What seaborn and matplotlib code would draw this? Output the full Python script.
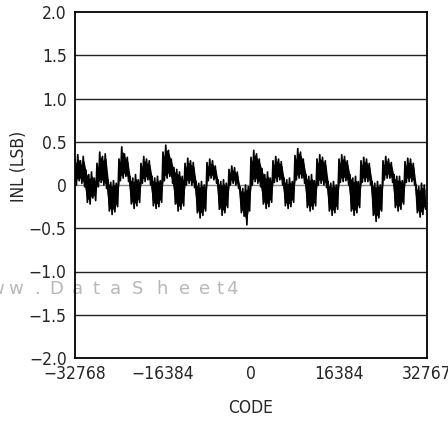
import numpy as np
import pandas as pd
import matplotlib
matplotlib.use("Agg")
import matplotlib.pyplot as plt
import seaborn as sns
from matplotlib import font_manager

# ---- data (upper / lower envelope every 512 codes) ----
upper = [
    0.30, 0.35, 0.28, 0.33, 0.17, 0.12, 0.15, 0.08,
    0.25, 0.38, 0.33, 0.36, 0.06, 0.03, 0.05, 0.02,
    0.30, 0.44, 0.36, 0.32, 0.10, 0.08, 0.12, 0.06,
    0.25, 0.33, 0.30, 0.28, 0.10, 0.08, 0.10, 0.05,
    0.38, 0.46, 0.40, 0.30, 0.20, 0.18, 0.15, 0.10,
    0.25, 0.31, 0.28, 0.26, 0.04, 0.02, 0.04, 0.00,
    0.26, 0.30, 0.28, 0.22, 0.06, 0.04, 0.06, 0.02,
    0.18, 0.22, 0.20, 0.15, -0.02, -0.04, 0.00, -0.02,
    0.32, 0.40, 0.36, 0.30, 0.19, 0.12, 0.15, 0.08,
    0.28, 0.33, 0.30, 0.27, 0.08, 0.06, 0.08, 0.04,
    0.34, 0.42, 0.38, 0.30, 0.12, 0.10, 0.12, 0.05,
    0.30, 0.35, 0.32, 0.28, 0.04, 0.02, 0.04, 0.00,
    0.30, 0.35, 0.33, 0.28, 0.12, 0.08, 0.10, 0.04,
    0.28, 0.32, 0.30, 0.25, 0.04, 0.02, 0.04, 0.00,
    0.28, 0.33, 0.30, 0.26, 0.12, 0.10, 0.10, 0.05,
    0.27, 0.31, 0.30, 0.25, 0.00, -0.02, 0.02, 0.00,
]
lower = [
    0.00, 0.05, 0.02, -0.02, -0.20, -0.22, -0.15, -0.18,
    -0.02, 0.03, 0.00, -0.04, -0.30, -0.34, -0.31, -0.25,
    0.05, 0.08, 0.10, 0.04, -0.22, -0.27, -0.24, -0.20,
    0.02, 0.04, 0.06, 0.00, -0.24, -0.27, -0.25, -0.20,
    0.05, 0.08, 0.10, 0.02, -0.22, -0.30, -0.28, -0.24,
    0.00, 0.02, 0.00, -0.03, -0.32, -0.38, -0.35, -0.30,
    0.05, 0.08, 0.06, 0.02, -0.28, -0.35, -0.32, -0.26,
    0.00, 0.02, 0.00, -0.04, -0.32, -0.36, -0.46, -0.30,
    0.00, 0.04, 0.02, -0.02, -0.22, -0.27, -0.25, -0.20,
    0.03, 0.04, 0.06, 0.00, -0.24, -0.27, -0.25, -0.20,
    0.06, 0.08, 0.08, 0.02, -0.26, -0.30, -0.28, -0.24,
    0.00, 0.02, 0.00, -0.03, -0.30, -0.35, -0.32, -0.28,
    0.03, 0.04, 0.05, 0.00, -0.30, -0.35, -0.32, -0.26,
    0.03, 0.04, 0.04, 0.00, -0.35, -0.42, -0.38, -0.30,
    0.06, 0.08, 0.08, 0.03, -0.26, -0.30, -0.28, -0.22,
    0.03, 0.04, 0.04, 0.00, -0.32, -0.37, -0.34, -0.28,
]
code_start = -32768
code_step = 512
x_ticks = [-32768, -16384, 0, 16384, 32767]
x_ticklabels = ["\u221232768", "\u221216384", "0", "16384", "32767"]
y_ticks = [-2.0, -1.5, -1.0, -0.5, 0, 0.5, 1.0, 1.5, 2.0]
y_ticklabels = ["\u22122.0", "\u22121.5", "\u22121.0", "\u22120.5", "0", "0.5", "1.0", "1.5", "2.0"]

# zig-zag trace between the envelopes
codes, vals = [], []
for i, (u, l) in enumerate(zip(upper, lower)):
    c = code_start + i * code_step
    codes += [c, c + code_step / 2]
    vals += [u, l]
df = pd.DataFrame({"CODE": codes, "INL": vals})
env_x = [code_start + i * code_step + code_step / 4 for i in range(len(upper))]
# solid core of the dense trace (narrower than the spiky envelope)
inset = 0.045
core_hi = [max(u - inset, (u + l) / 2) for u, l in zip(upper, lower)]
core_lo = [min(l + inset, (u + l) / 2) for u, l in zip(upper, lower)]

sns.set_style("white")

# pick a condensed regular-weight sans face if one is installed
fonts = font_manager.fontManager.ttflist
fam, stretch, weight = "DejaVu Sans", "normal", "normal"
best = None
for f in fonts:
    st = str(f.stretch)
    cond = ("Narrow" in f.name or "Condensed" in f.name or
            st in ("condensed", "semi-condensed", "extra-condensed"))
    if not cond or f.style != "normal":
        continue
    w = f.weight if isinstance(f.weight, int) else {"normal": 400, "regular": 400,
                                                    "light": 300, "bold": 700,
                                                    "medium": 500}.get(str(f.weight), 400)
    score = abs(w - 420) + (0 if (st == "condensed" or "Narrow" in f.name) else 1000)
    if best is None or score < best[0]:
        best = (score, f)
if best is not None:
    fam, stretch, weight = best[1].name, best[1].stretch, best[1].weight
plt.rcParams["font.family"] = [fam, "DejaVu Sans"]
plt.rcParams["font.stretch"] = stretch
plt.rcParams["font.weight"] = weight

fig = plt.figure(figsize=(4.48, 4.21), dpi=100)
ax = fig.add_axes([75 / 448, 63 / 421, 352 / 448, 346 / 421])
ax.patch.set_alpha(0)

for yv in [-1.5, -1.0, -0.5, 0.5, 1.0, 1.5]:
    ax.axhline(yv, color="#222222", lw=1.0, zorder=1)
ax.axhline(0, color="#888888", lw=1.0, zorder=1)

ax.fill_between(env_x, core_lo, core_hi, color="black", lw=0, zorder=2)
sns.lineplot(data=df, x="CODE", y="INL", sort=False, color="black", lw=1.25,
             ax=ax, zorder=3, estimator=None)

ax.set_xlim(-32768, 32767)
ax.set_ylim(-2.0, 2.0)
ax.set_xticks(x_ticks)
ax.set_xticklabels(x_ticklabels)
ax.set_yticks(y_ticks)
ax.set_yticklabels(y_ticklabels)
ax.tick_params(axis="x", direction="in", length=8, width=1, pad=5, labelsize=12.5, color="black")
ax.tick_params(axis="y", length=0, pad=6, labelsize=12.5)
ax.set_xlabel("CODE", fontsize=12.5)
ax.set_ylabel("INL (LSB)", fontsize=12.5)
ax.xaxis.set_label_coords(0.5, -(408 - 358) / 346)
ax.yaxis.set_label_coords(-(75 - 19) / 352, (358 - 166) / 346)
ax.xaxis.label.set_va("center")
ax.yaxis.label.set_va("center")
for s in ax.spines.values():
    s.set_color("black")
    s.set_linewidth(1.3)

# faint watermark behind the axes
wm_x = [-3, 16, 37, 56, 77, 96, 115, 138, 162, 185, 205, 220, 232]
wm_c = ["w", "w", ".", "D", "a", "t", "a", "S", "h", "e", "e", "t", "4"]
for px, ch in zip(wm_x, wm_c):
    fig.text(px / 448, 1 - 289 / 421, ch, fontsize=13, color="#b8b8b8",
             ha="center", va="center", zorder=-5, family="DejaVu Sans",
             stretch="normal", weight="normal")

fig.savefig("out.png", dpi=100)
